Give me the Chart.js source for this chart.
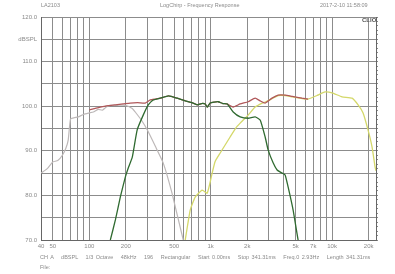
<!DOCTYPE html>
<html>
<head>
<meta charset="utf-8">
<script src="https://cdn.jsdelivr.net/npm/chart.js@4.4.1/dist/chart.umd.min.js"></script>
<style>
  body { margin: 0; background: #fff; }
  #wrap { position: relative; width: 395px; height: 274px; font-family: 'Liberation Sans', Arial, sans-serif; color: #8a8a8a; }
  #wrap canvas { position: absolute; left: 0; top: 0; }
  .txt { position: absolute; font-size: 5.5px; white-space: nowrap; }
  .logo { position: absolute; font-size: 6px; font-weight: bold; color: #555; }
</style>
</head>
<body>
<div id="wrap">
  <canvas id="fr" width="395" height="274"></canvas>
  <div class="txt" style="left:41px; top:2px;">LA2103</div>
  <div class="txt" style="left:160px; top:2px;">LogChirp - Frequency Response</div>
  <div class="txt" style="left:320px; top:2px;">2017-2-10 11:58:09</div>
  <div class="logo" style="left:362px; top:17px;">CLIO</div>
  <div class="txt" style="left:40px; top:254px; word-spacing:1px;">CH A &nbsp; dBSPL &nbsp; 1/3 Octave &nbsp; 48kHz &nbsp; 196 &nbsp; Rectangular &nbsp; Start 0.00ms &nbsp; Stop 341.31ms &nbsp; Freq.0 2.93Hz &nbsp; Length 341.31ms</div>
  <div class="txt" style="left:40px; top:264px;">File:</div>
</div>
<script>
  // axis setup
  var xMin = 40, xMax = 23000;
  var gridFreqs = [40, 50, 60, 70, 80, 90, 100, 200, 300, 400, 500, 600, 700, 800, 900,
    1000, 2000, 3000, 4000, 5000, 6000, 7000, 8000, 9000, 10000, 20000];
  var freqLabels = { 40: '40', 50: '50', 100: '100', 200: '200', 500: '500', 1000: '1k',
    2000: '2k', 5000: '5k', 7000: '7k', 10000: '10k', 20000: '20k' };

  // woofer (light gray)
  var grayFreq = [40, 45, 50, 55, 60, 64, 67, 70, 75, 81, 90, 100, 108, 118, 128, 138, 149, 170, 198, 226, 239, 270, 300, 350, 406, 480, 594, 620];
  var grayDb = [85.0, 86.0, 87.5, 87.8, 89.0, 90.5, 92.4, 97.1, 97.4, 97.6, 98.2, 98.5, 98.7, 99.3, 99.1, 99.8, 100.2, 100.2, 100.2, 99.5, 98.7, 96.8, 94.7, 91.0, 87.3, 80.5, 70.0, 68.5];

  // midrange (dark green)
  var greenFreq = [149, 164, 180, 198, 209, 226, 248, 278, 306, 336, 384, 450, 530, 617, 700, 774, 840, 901, 936, 990, 1070, 1153, 1260, 1368, 1532, 1749, 2036, 2323, 2555, 2810, 2972, 3267, 3525, 3875, 4103, 4342, 4776, 5250, 5400];
  var greenDb = [70, 74.5, 79.6, 84.1, 86.1, 88.6, 94.7, 98.0, 100.3, 101.4, 101.8, 102.3, 101.8, 101.2, 100.8, 100.3, 100.6, 100.5, 99.8, 100.7, 100.9, 101.0, 100.6, 100.5, 98.7, 97.6, 97.3, 97.6, 96.9, 93.1, 90.2, 87.3, 85.7, 85.0, 84.6, 81.9, 76.7, 70.0, 69.0];

  // sum (red)
  var redFreq = [100, 112, 135, 164, 190, 217, 250, 289, 318, 350, 384, 450, 530, 617, 700, 774, 840, 901, 936, 990, 1070, 1153, 1260, 1368, 1532, 1749, 2036, 2323, 2555, 2810, 3200, 3597, 4103, 4700, 5665, 6340];
  var redDb = [99.2, 99.5, 100.0, 100.3, 100.5, 100.7, 100.8, 100.7, 101.4, 101.6, 101.8, 102.3, 101.8, 101.2, 100.8, 100.3, 100.6, 100.5, 99.8, 100.7, 100.9, 101.0, 100.6, 100.5, 99.8, 100.5, 101.0, 101.8, 101.2, 100.7, 101.8, 102.5, 102.5, 102.2, 101.8, 101.6];

  // tweeter (yellow)
  var yellowFreq = [617, 678, 745, 851, 936, 1028, 1088, 1197, 1445, 1608, 1749, 2036, 2323, 2655, 2810, 3200, 3597, 4103, 4700, 5665, 6340, 7500, 8750, 10000, 12080, 14610, 16380, 18000, 19770, 21330, 22600, 23000];
  var yellowDb = [70, 76.7, 79.6, 81.2, 80.5, 85.0, 87.6, 89.5, 93.1, 95.1, 96.2, 98.0, 99.8, 100.7, 100.9, 101.7, 102.4, 102.4, 102.1, 101.7, 101.6, 102.4, 103.2, 103.0, 102.1, 101.8, 100.3, 98.5, 94.7, 90.9, 86.4, 85.5];

  function pts(fs, ds) {
    var out = [];
    for (var i = 0; i < fs.length; i++) out.push({ x: fs[i], y: ds[i] });
    return out;
  }

  function line(data, color, width) {
    return { data: data, borderColor: color, borderWidth: width, pointRadius: 0, tension: 0.15, fill: false };
  }

  var tickFont = { family: "'Liberation Sans', Arial, sans-serif", size: 6 };

  new Chart(document.getElementById('fr').getContext('2d'), {
    type: 'line',
    data: {
      datasets: [
        line(pts(greenFreq, greenDb), '#2f6a30', 1.3),
        line(pts(redFreq, redDb), '#b0585a', 1.3),
        line(pts(yellowFreq, yellowDb), '#d4d86a', 1.3),
        line(pts(grayFreq, grayDb), '#bdb8b8', 1.2)
      ]
    },
    options: {
      responsive: false,
      animation: false,
      devicePixelRatio: 1,
      layout: { padding: { left: 0, right: 16, top: 17, bottom: 24 } },
      plugins: { legend: { display: false }, tooltip: { enabled: false } },
      scales: {
        x: {
          type: 'logarithmic',
          min: xMin,
          max: xMax,
          afterBuildTicks: function (s) { s.ticks = gridFreqs.map(function (v) { return { value: v }; }); },
          afterFit: function (s) { s.height = 10; },
          grid: { color: '#8c8c8c', lineWidth: 1, drawTicks: false },
          border: { color: '#666', width: 1 },
          ticks: {
            autoSkip: false, maxRotation: 0, padding: 3, color: '#8a8a8a', font: tickFont,
            callback: function (v) { return freqLabels[v] || ''; }
          }
        },
        y: {
          min: 70,
          max: 120,
          afterFit: function (s) { s.width = 41; },
          grid: { color: '#8c8c8c', lineWidth: 1, drawTicks: false },
          border: { color: '#666', width: 1 },
          ticks: {
            stepSize: 5, padding: 4, color: '#8a8a8a', font: tickFont,
            callback: function (v) {
              if (v === 115) return 'dBSPL';
              return v % 10 === 0 ? v.toFixed(1) : '';
            }
          }
        },
        y2: {
          position: 'right',
          min: 70,
          max: 120,
          afterFit: function (s) { s.width = 3; },
          grid: { drawOnChartArea: false, color: '#888', tickLength: 2 },
          border: { color: '#666', width: 1 },
          ticks: { stepSize: 1, display: false }
        }
      }
    }
  });
</script>
</body>
</html>
